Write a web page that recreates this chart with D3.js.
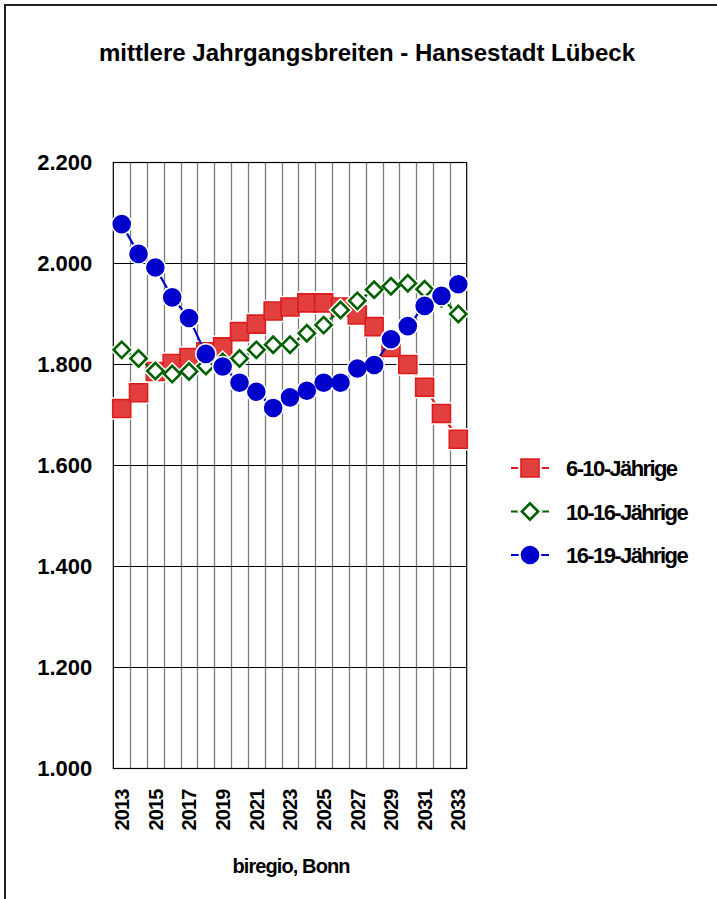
<!DOCTYPE html>
<html>
<head>
<meta charset="utf-8">
<script src="https://cdn.jsdelivr.net/npm/d3@7"></script>
<style>
  html, body { margin: 0; padding: 0; background: #fff; }
  svg { display: block; }
  text { font-family: "Liberation Sans", Arial, sans-serif; font-weight: bold; fill: #000; }
</style>
</head>
<body>
<svg id="chart" width="717" height="899"></svg>
<script>
// ---- data ----
const years = [2013, 2014, 2015, 2016, 2017, 2018, 2019, 2020, 2021, 2022, 2023,
               2024, 2025, 2026, 2027, 2028, 2029, 2030, 2031, 2032, 2033];
const labelYears = [2013, 2015, 2017, 2019, 2021, 2023, 2025, 2027, 2029, 2031, 2033];
const yTicks = [1000, 1200, 1400, 1600, 1800, 2000, 2200];
const seriesNames = ["6-10-Jährige", "10-16-Jährige", "16-19-Jährige"];
const age6to10 = [1713, 1744, 1786, 1802, 1814, 1825, 1835, 1865, 1880, 1906, 1914,
                  1922, 1922, 1914, 1898, 1875, 1834, 1800, 1755, 1703, 1652];
const age10to16 = [1829, 1812, 1787, 1781, 1786, 1797, 1805, 1812, 1829, 1839, 1839,
                   1862, 1878, 1908, 1926, 1948, 1955, 1961, 1949, 1931, 1900];
const age16to19 = [2078, 2019, 1992, 1933, 1892, 1821, 1796, 1764, 1746, 1714, 1735,
                   1748, 1764, 1764, 1792, 1799, 1850, 1876, 1916, 1936, 1959];
const titleText = "mittlere Jahrgangsbreiten - Hansestadt Lübeck";
const sourceText = "biregio, Bonn";

// ---- layout ----
const svg = d3.select("#chart");
const plot = { left: 113.3, right: 466.7, top: 162.5, bottom: 768.5 };

// outer frame (extends beyond viewport right/bottom)
svg.append("rect").attr("x", 5).attr("y", 5).attr("width", 760).attr("height", 960)
  .attr("fill", "none").attr("stroke", "#222").attr("stroke-width", 2);

svg.append("text").attr("x", 367).attr("y", 61).attr("text-anchor", "middle")
  .style("font-size", "24px").text(titleText);

const x = d3.scaleBand().domain(years).range([plot.left, plot.right]).padding(0);
const y = d3.scaleLinear().domain([1000, 2200]).range([plot.bottom, plot.top]);

const locale = d3.formatLocale({ decimal: ",", thousands: ".", grouping: [3], currency: ["", "€"] });
const fmt = locale.format(",.0f");

// vertical grid lines at category boundaries
svg.append("g").selectAll("line").data(years.slice(1)).join("line")
  .attr("x1", d => Math.round(x(d)) + 0.5).attr("x2", d => Math.round(x(d)) + 0.5)
  .attr("y1", plot.top).attr("y2", plot.bottom)
  .attr("stroke", "#7a7a7a").attr("stroke-width", 1.3);

// horizontal grid lines
svg.append("g").selectAll("line").data(yTicks).join("line")
  .attr("x1", plot.left).attr("x2", plot.right)
  .attr("y1", d => y(d)).attr("y2", d => y(d))
  .attr("stroke", "#000").attr("stroke-width", 1.2);

// plot frame
svg.append("rect").attr("x", plot.left).attr("y", plot.top)
  .attr("width", plot.right - plot.left).attr("height", plot.bottom - plot.top)
  .attr("fill", "none").attr("stroke", "#000").attr("stroke-width", 1.2);

// y axis labels
const yAxis = svg.append("g").attr("transform", `translate(${plot.left},0)`)
  .call(d3.axisLeft(y).tickValues(yTicks).tickFormat(fmt).tickSize(0).tickPadding(21));
yAxis.select(".domain").remove();
yAxis.selectAll("text").style("font-size", "22px").style("font-family", "Liberation Sans, Arial, sans-serif")
  .style("font-weight", "bold").attr("fill", "#000");

// x axis labels
const xAxis = svg.append("g").attr("transform", `translate(0,${plot.bottom})`)
  .call(d3.axisBottom(x).tickValues(labelYears).tickSize(0).tickPadding(0));
xAxis.select(".domain").remove();
xAxis.selectAll("text")
  .attr("transform", "translate(0,21) rotate(-90)")
  .attr("text-anchor", "end").attr("x", 0).attr("y", 0).attr("dy", "0.36em")
  .style("font-size", "20px").style("font-family", "Liberation Sans, Arial, sans-serif")
  .style("font-weight", "bold").style("letter-spacing", "-0.9px").attr("fill", "#000");

svg.append("text").attr("x", 291).attr("y", 873).attr("text-anchor", "middle")
  .style("font-size", "20px").style("letter-spacing", "-0.9px").text(sourceText);

// ---- series ----
const series = [
  { name: seriesNames[0], values: age6to10, color: "#dd1c1c", fill: "#e23f3f",
    symbol: d3.symbol().type(d3.symbolSquare).size(18 * 18), rot: 0, sw: 1.6 },
  { name: seriesNames[1], values: age10to16, color: "#006000", fill: "#ffffff",
    symbol: d3.symbol().type(d3.symbolSquare).size(11.5 * 11.5), rot: 45, sw: 2.6 },
  { name: seriesNames[2], values: age16to19, color: "#0000cc", fill: "#0000cc",
    symbol: d3.symbol().type(d3.symbolCircle).size(Math.PI * 9.3 * 9.3), rot: 0, sw: 0 }
];

const cx = d => x(d) + x.bandwidth() / 2;
const line = d3.line().x(d => cx(d.year)).y(d => y(d.v));

series.forEach(s => {
  const pts = years.map((yr, i) => ({ year: yr, v: s.values[i] }));
  const g = svg.append("g");
  g.append("path").datum(pts).attr("d", line).attr("fill", "none")
    .attr("stroke", s.color).attr("stroke-width", 2.2);
  // white halo
  g.selectAll("path.halo").data(pts).join("path").attr("class", "halo")
    .attr("d", s.symbol())
    .attr("transform", d => `translate(${cx(d.year)},${y(d.v)}) rotate(${s.rot})`)
    .attr("fill", "#fff").attr("stroke", "#fff").attr("stroke-width", s.sw + 3);
  g.selectAll("path.mark").data(pts).join("path").attr("class", "mark")
    .attr("d", s.symbol())
    .attr("transform", d => `translate(${cx(d.year)},${y(d.v)}) rotate(${s.rot})`)
    .attr("fill", s.fill).attr("stroke", s.sw ? s.color : "none").attr("stroke-width", s.sw);
});

// ---- legend ----
const legendY = [468, 511.5, 555];
series.forEach((s, i) => {
  const g = svg.append("g").attr("transform", `translate(0,${legendY[i]})`);
  g.append("line").attr("x1", 511).attr("x2", 549).attr("y1", 0).attr("y2", 0)
    .attr("stroke", s.color).attr("stroke-width", 2.2);
  g.append("path").attr("d", s.symbol()).attr("transform", `translate(530,0) rotate(${s.rot})`)
    .attr("fill", "#fff").attr("stroke", "#fff").attr("stroke-width", s.sw + 4);
  g.append("path").attr("d", s.symbol()).attr("transform", `translate(530,0) rotate(${s.rot})`)
    .attr("fill", s.fill).attr("stroke", s.sw ? s.color : "none").attr("stroke-width", s.sw);
  g.append("text").attr("x", 566).attr("y", 8).style("font-size", "22px")
    .style("letter-spacing", "-1.6px").text(s.name);
});
</script>
</body>
</html>
